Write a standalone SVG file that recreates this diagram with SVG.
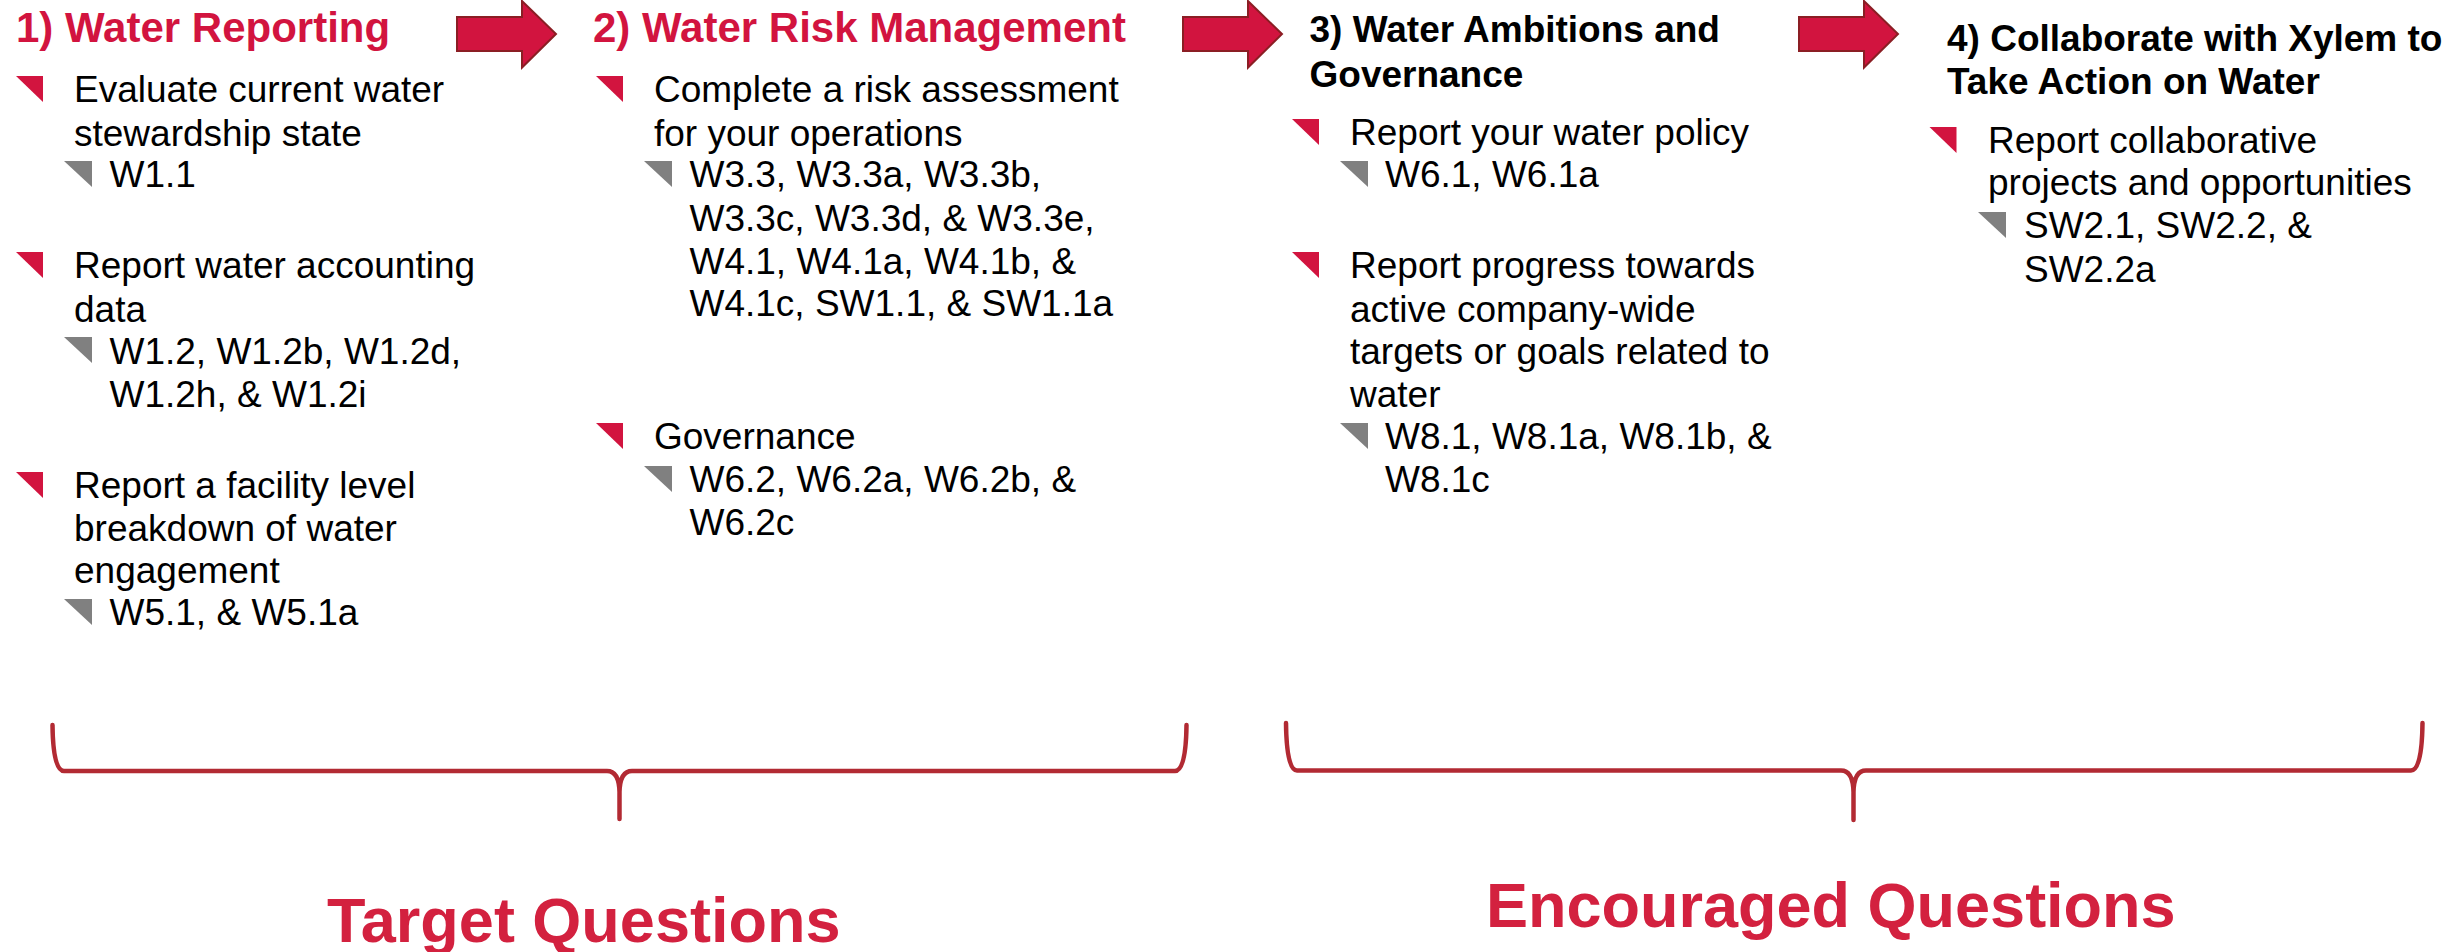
<svg xmlns="http://www.w3.org/2000/svg" width="2463" height="952" viewBox="0 0 2463 952">
  <style>
    .title { font-family: "Liberation Sans", Arial, sans-serif; font-weight: bold; font-size: 42px; fill: #D2143F; }
    .title2 { font-family: "Liberation Sans", Arial, sans-serif; font-weight: bold; font-size: 37px; fill: #000000; }
    .body { font-family: "Liberation Sans", Arial, sans-serif; font-size: 37px; fill: #000000; }
    .big { font-family: "Liberation Sans", Arial, sans-serif; font-weight: bold; font-size: 63px; fill: #D3213F; }
    .rb { fill: #D2143F; }
    .gb { fill: #808080; }
    .arrow { fill: #D2143F; stroke: #8B1E24; stroke-width: 2; stroke-linejoin: miter; }
    .brace { fill: none; stroke: #B22A33; stroke-width: 4.5; stroke-linecap: round; stroke-linejoin: round; }
  </style>
  <defs>
    <path id="arrowShape" d="M0,17 L65,17 L65,1 L99,34 L65,67.5 L65,51 L0,51 Z"/>
    <path id="redBullet" d="M0,0 L27,0 L27,26 Z"/>
    <path id="grayBullet" d="M0,0 L28,0 L28,26 Z"/>
  </defs>
  <rect width="2463" height="952" fill="#FFFFFF"/>

  <g id="connectors">
    <use href="#arrowShape" class="arrow" transform="translate(457,0)"/>
    <use href="#arrowShape" class="arrow" transform="translate(1183,0)"/>
    <use href="#arrowShape" class="arrow" transform="translate(1799,0)"/>
    <path class="brace" d="M52.5,725 Q53,771 64,771 L607,771 Q619,771 619.5,792 L619.5,819 M619.5,792 Q620,771 632,771 L1175,771 Q1186,771 1186.5,725"/>
    <path class="brace" d="M1286,723 Q1286.5,770.5 1297,770.5 L1841,770.5 Q1853,770.5 1853.5,792 L1853.5,820 M1853.5,792 Q1854,770.5 1866,770.5 L2411,770.5 Q2422,770.5 2422.5,723"/>
  </g>

  <g id="step1">
    <text class="title" x="16" y="42">1) Water Reporting</text>
    <use href="#redBullet" class="rb" x="16" y="76"/>
    <text class="body" x="74" y="102">Evaluate current water</text>
    <text class="body" x="74" y="145.5">stewardship state</text>
    <use href="#grayBullet" class="gb" x="64" y="161"/>
    <text class="body" x="109.5" y="187">W1.1</text>
    <use href="#redBullet" class="rb" x="16" y="252"/>
    <text class="body" x="74" y="278">Report water accounting</text>
    <text class="body" x="74" y="322">data</text>
    <use href="#grayBullet" class="gb" x="64" y="337"/>
    <text class="body" x="109.5" y="363.5">W1.2, W1.2b, W1.2d,</text>
    <text class="body" x="109.5" y="407">W1.2h, &amp; W1.2i</text>
    <use href="#redBullet" class="rb" x="16" y="472"/>
    <text class="body" x="74" y="498">Report a facility level</text>
    <text class="body" x="74" y="540.5">breakdown of water</text>
    <text class="body" x="74" y="583">engagement</text>
    <use href="#grayBullet" class="gb" x="64" y="599"/>
    <text class="body" x="109.5" y="625">W5.1, &amp; W5.1a</text>
  </g>

  <g id="step2">
    <text class="title" x="593" y="42">2) Water Risk Management</text>
    <use href="#redBullet" class="rb" x="596" y="76"/>
    <text class="body" x="654" y="102">Complete a risk assessment</text>
    <text class="body" x="654" y="145.5">for your operations</text>
    <use href="#grayBullet" class="gb" x="644" y="161"/>
    <text class="body" x="689.5" y="187">W3.3, W3.3a, W3.3b,</text>
    <text class="body" x="689.5" y="230.5">W3.3c, W3.3d, &amp; W3.3e,</text>
    <text class="body" x="689.5" y="273.5">W4.1, W4.1a, W4.1b, &amp;</text>
    <text class="body" x="689.5" y="316">W4.1c, SW1.1, &amp; SW1.1a</text>
    <use href="#redBullet" class="rb" x="596" y="423"/>
    <text class="body" x="654" y="449">Governance</text>
    <use href="#grayBullet" class="gb" x="644" y="466"/>
    <text class="body" x="689.5" y="491.5">W6.2, W6.2a, W6.2b, &amp;</text>
    <text class="body" x="689.5" y="535">W6.2c</text>
  </g>

  <g id="step3">
    <text class="title2" x="1309.5" y="42.3">3) Water Ambitions and</text>
    <text class="title2" x="1309.5" y="86.7">Governance</text>
    <use href="#redBullet" class="rb" x="1292" y="119"/>
    <text class="body" x="1350" y="145">Report your water policy</text>
    <use href="#grayBullet" class="gb" x="1340" y="161"/>
    <text class="body" x="1385" y="187">W6.1, W6.1a</text>
    <use href="#redBullet" class="rb" x="1292" y="252"/>
    <text class="body" x="1350" y="278">Report progress towards</text>
    <text class="body" x="1350" y="321.5">active company-wide</text>
    <text class="body" x="1350" y="363.5">targets or goals related to</text>
    <text class="body" x="1350" y="407">water</text>
    <use href="#grayBullet" class="gb" x="1340" y="423"/>
    <text class="body" x="1385" y="449">W8.1, W8.1a, W8.1b, &amp;</text>
    <text class="body" x="1385" y="492">W8.1c</text>
  </g>

  <g id="step4">
    <text class="title2" x="1947" y="51">4) Collaborate with Xylem to</text>
    <text class="title2" x="1947" y="94.3">Take Action on Water</text>
    <use href="#redBullet" class="rb" x="1929.5" y="127"/>
    <text class="body" x="1988" y="153">Report collaborative</text>
    <text class="body" x="1988" y="194.5">projects and opportunities</text>
    <use href="#grayBullet" class="gb" x="1978" y="212"/>
    <text class="body" x="2024" y="238">SW2.1, SW2.2, &amp;</text>
    <text class="body" x="2024" y="281.5">SW2.2a</text>
  </g>

  <g id="target-label">
    <text class="big" x="327" y="942">Target Questions</text>
  </g>
  <g id="encouraged-label">
    <text class="big" x="1486" y="927">Encouraged Questions</text>
  </g>
</svg>
